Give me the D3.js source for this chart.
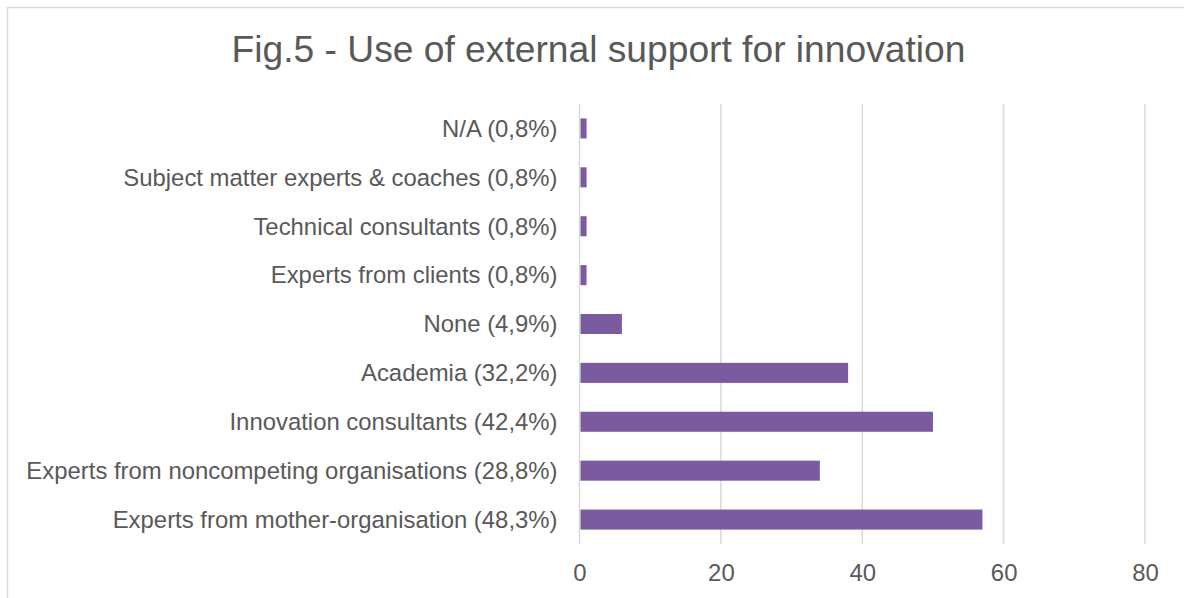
<!DOCTYPE html>
<html>
<head>
<meta charset="utf-8">
<script src="https://cdn.jsdelivr.net/npm/d3@7"></script>
<style>
  html, body { margin: 0; padding: 0; background: #ffffff; }
  svg { display: block; font-family: "Liberation Sans", Arial, sans-serif; }
</style>
</head>
<body>
<svg id="chart" width="1184" height="598"></svg>
<script>
// Survey answers: how many respondents used each kind of external support
const categories = [
  "N/A (0,8%)",
  "Subject matter experts & coaches (0,8%)",
  "Technical consultants (0,8%)",
  "Experts from clients (0,8%)",
  "None (4,9%)",
  "Academia (32,2%)",
  "Innovation consultants (42,4%)",
  "Experts from noncompeting organisations (28,8%)",
  "Experts from mother-organisation (48,3%)"
];
const counts = [1, 1, 1, 1, 6, 38, 50, 34, 57];
const xTicks = [0, 20, 40, 60, 80];
const titleText = "Fig.5 - Use of external support for innovation";

const svg = d3.select("#chart");
const textColor = "#595959";
const gridColor = "#d9d9d9";
const barColor = "#7a5ba0";

// Chart frame (only left and top edges fall inside the view)
svg.append("rect")
  .attr("x", 7.5).attr("y", 7.5)
  .attr("width", 1200).attr("height", 620)
  .attr("fill", "#ffffff")
  .attr("stroke", gridColor)
  .attr("stroke-width", 1.5);

const plot = { left: 579.5, right: 1145, top: 104, bottom: 544 };

const x = d3.scaleLinear()
  .domain([0, 80])
  .range([plot.left, plot.right]);

const y = d3.scaleBand()
  .domain(categories)
  .range([plot.top, plot.bottom])
  .paddingInner(0.59)
  .paddingOuter(0.295);

// Title
svg.append("text")
  .attr("x", 598.5)
  .attr("y", 62)
  .attr("text-anchor", "middle")
  .attr("fill", textColor)
  .style("font-size", "37.2px")
  .text(titleText);

// Vertical gridlines
svg.append("g")
  .selectAll("line")
  .data(xTicks)
  .join("line")
  .attr("x1", d => x(d)).attr("x2", d => x(d))
  .attr("y1", plot.top).attr("y2", plot.bottom)
  .attr("stroke", gridColor)
  .attr("stroke-width", 1.5);

// Bottom axis: labels only
const xAxis = svg.append("g")
  .attr("transform", `translate(0,${plot.bottom})`)
  .call(d3.axisBottom(x).tickValues(xTicks).tickSize(0).tickPadding(0).tickFormat(d3.format("d")));
xAxis.select(".domain").remove();
xAxis.selectAll("text")
  .attr("y", 37)
  .attr("dy", 0)
  .attr("fill", textColor)
  .style("font-size", "23.9px")
  .style("font-family", "'Liberation Sans', Arial, sans-serif");

// Left axis: category labels only
const yAxis = svg.append("g")
  .attr("transform", `translate(${plot.left},0)`)
  .call(d3.axisLeft(y).tickSize(0).tickPadding(22));
yAxis.select(".domain").remove();
yAxis.selectAll("text")
  .attr("fill", textColor)
  .attr("dy", "0.35em")
  .style("font-size", "23.9px")
  .style("font-family", "'Liberation Sans', Arial, sans-serif");

// Bars
svg.append("g")
  .selectAll("rect")
  .data(categories.map((c, i) => ({ c, v: counts[i] })))
  .join("rect")
  .attr("x", x(0) + 1)
  .attr("y", d => y(d.c))
  .attr("width", d => x(d.v) - x(0) - 1)
  .attr("height", y.bandwidth())
  .attr("fill", barColor);
</script>
</body>
</html>
